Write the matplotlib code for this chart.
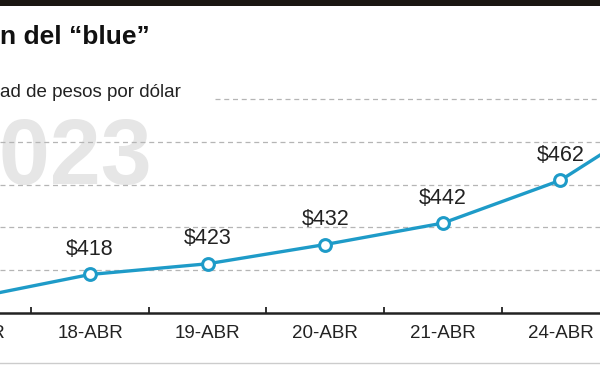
import matplotlib
matplotlib.use('Agg')
import matplotlib.pyplot as plt
from matplotlib.patches import Rectangle
from matplotlib.lines import Line2D

# datos
fechas = ['17-ABR', '18-ABR', '19-ABR', '20-ABR', '21-ABR', '24-ABR', '25-ABR']
valores = [407, 418, 423, 432, 442, 462, 497]
lineas_guia = [420, 440, 460, 480, 500]

titulo = 'n del “blue”'
subtitulo = 'ad de pesos por dólar'
anio = '2023'

AZUL = '#1e9bc8'
TEXTO = '#222222'
W, H = 600, 365

plt.rcParams['font.family'] = ['Liberation Sans', 'DejaVu Sans']


def fx(px):
    return px / W


def fy(py):
    return 1 - py / H


fig = plt.figure(figsize=(W / 100, H / 100), dpi=100)

# escala: 117.6 px por dia, 2.14 px por peso
px_dia = 117.6
px_peso = 2.14
y_min, y_max = 400, 510
alto = (y_max - y_min) * px_peso
ax = fig.add_axes([0, fy(313), 1, alto / H])
ax.patch.set_visible(False)

for s in ['top', 'right', 'left']:
    ax.spines[s].set_visible(False)
ax.spines['bottom'].set_color(TEXTO)
ax.spines['bottom'].set_linewidth(1.8)

ax.set_yticks([])
ax.set_xticks([i + 0.5 for i in range(len(fechas) - 1)])
ax.tick_params(axis='x', direction='in', length=4, width=1.3, color=TEXTO,
               labelbottom=False)

for v in lineas_guia:
    xmin = 215 / W if v == 500 else 0
    ax.axhline(v, xmin=xmin, color='#b5b5b5', lw=0.9, ls=(0, (4, 3)), zorder=1)

# marca de agua del año
ax.text(fx(152), fy(184), anio, transform=fig.transFigure, ha='right',
        va='baseline', fontsize=66, fontweight='bold', color='#e6e6e6', zorder=0.5)

x = list(range(len(valores)))
ax.plot(x, valores, color=AZUL, lw=2.4, marker='o', ms=8.5, mfc='white',
        mec=AZUL, mew=2.2, zorder=3)

# limites al final (set_xticks amplia la vista)
ax.set_xlim(1 - 90 / px_dia, 1 + (W - 90) / px_dia)
ax.set_ylim(y_min, y_max)

for i, v in enumerate(valores):
    ax.annotate('$%d' % v, (i, v), xytext=(0, 18), textcoords='offset points',
                ha='center', va='center', fontsize=15.5, color=TEXTO,
                annotation_clip=True, zorder=4)

for i, f in enumerate(fechas):
    xp = 90 + (i - 1) * px_dia
    if xp + 40 < 0 or xp - 40 > W:
        continue
    ax.annotate(f, xy=(i, 0), xycoords=('data', 'axes fraction'),
                xytext=(0, -14.4), textcoords='offset points', ha='center',
                va='center', fontsize=13.5, color=TEXTO, annotation_clip=False)

fig.text(0, fy(44), titulo, ha='left', va='baseline', fontsize=19,
         fontweight='bold', color='#111111')
fig.text(0, fy(97), subtitulo, ha='left', va='baseline', fontsize=13.5,
         color=TEXTO)

fig.patches.append(Rectangle((0, fy(6)), 1, 6 / H, transform=fig.transFigure,
                             facecolor='#1a1612', edgecolor='none'))
fig.lines.append(Line2D([0, 1], [fy(363), fy(363)], transform=fig.transFigure,
                        color='#cccccc', lw=1))

fig.savefig('out.png', dpi=100)
